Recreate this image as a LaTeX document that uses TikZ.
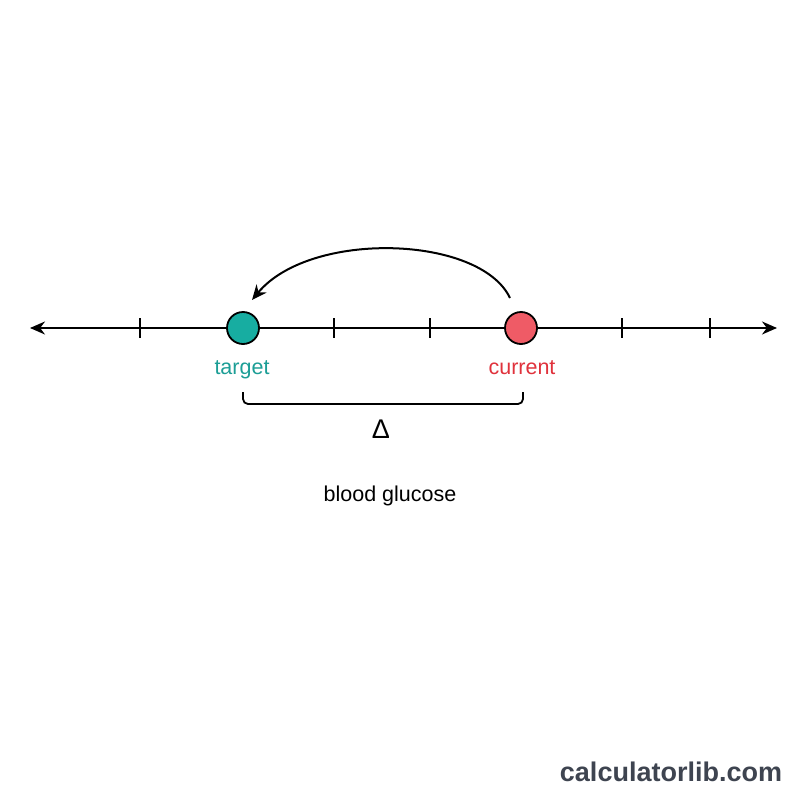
\documentclass[tikz,border=0pt]{standalone}
\usepackage{fontspec}
\setmainfont{Liberation Sans}
\usetikzlibrary{arrows.meta}
\definecolor{tealc}{HTML}{17ADA1}
\definecolor{tealt}{HTML}{1C9E96}
\definecolor{redc}{HTML}{EF5B66}
\definecolor{redt}{HTML}{E0323C}
\definecolor{wm}{HTML}{3E4450}
\begin{document}
\begin{tikzpicture}[x=1pt,y=-1pt,
  axis/.style={line width=2pt,black},
  tick/.style={line width=1.8pt},
  dot/.style={circle,draw=black,line width=1.8pt,minimum size=32pt,inner sep=0pt},
  lbl/.style={font=\fontsize{21.5}{24}\selectfont,anchor=base},
  tip/.style={-{Stealth[length=15pt,width=13pt]}}]
\useasboundingbox (0,0) rectangle (800,800);
\fill[white] (0,0) rectangle (800,800);
\coordinate (L) at (30,328);
\coordinate (R) at (777,328);
\draw[axis,{Stealth[length=15pt,width=13pt]}-{Stealth[length=15pt,width=13pt]}] (L) -- (R);
\foreach \x in {140,334,430,622,710} \draw[tick] (\x,318) -- (\x,338);
\node[dot,fill=tealc] (t) at (243,328) {};
\node[dot,fill=redc] (c) at (521,328) {};
\node[lbl,text=tealt] (tl) at (242,374) {target};
\node[lbl,text=redt] (cl) at (522,374) {current};
\coordinate (a0) at (510,298);
\coordinate (a1) at (252,300);
\draw[axis,tip] (a0) .. controls (480,235) and (310,230) .. (a1);
\coordinate (b1) at (243,392);
\coordinate (b2) at (523,392);
\draw[line width=1.8pt,rounded corners=5pt] (b1) -- (243,404) -- (523,404) -- (b2);
\node[lbl,font=\fontsize{27}{30}\selectfont] (d) at (381,438) {Δ};
\node[lbl] (bg) at (390,501) {blood glucose};
\node[anchor=base,font=\fontsize{27}{30}\selectfont\bfseries,text=wm] (w) at (671,781) {calculatorlib.com};
\end{tikzpicture}
\end{document}
